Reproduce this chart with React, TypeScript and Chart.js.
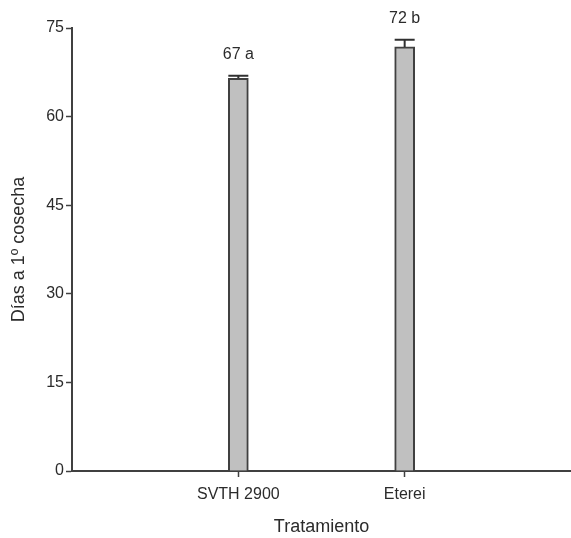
import React, { useEffect, useRef } from "react";
import { Chart, registerables } from "chart.js";

Chart.register(...registerables);

// ---- data ----
const categories: string[] = ["", "SVTH 2900", "Eterei", ""];
const means: (number | null)[] = [null, 66.5, 71.8, null];
const errors: number[] = [0, 0.4, 1.2, 0];
const barLabels: string[] = ["", "67 a", "72 b", ""];
const yMin = 0;
const yMax = 75;
const yStep = 15;
const xTitle = "Tratamiento";
const yTitle = "Días a 1º cosecha";

const FONT = "'Liberation Sans', Arial, sans-serif";
const AXIS = "#404040";
const TEXT = "#2b2b2b";

const errorPlugin = {
  id: "errorBarsAndLabels",
  afterDatasetsDraw(chart: any) {
    const ctx = chart.ctx;
    const meta = chart.getDatasetMeta(0);
    const yScale = chart.scales.y;
    ctx.save();
    meta.data.forEach((bar: any, i: number) => {
      const v = means[i];
      if (v == null) return;
      const x = bar.x;
      const w = bar.width;
      const base = yScale.getPixelForValue(v);
      const top = yScale.getPixelForValue(v + errors[i]);
      ctx.strokeStyle = "#303030";
      ctx.lineWidth = 2;
      ctx.beginPath();
      ctx.moveTo(x, base);
      ctx.lineTo(x, top);
      ctx.moveTo(x - w / 2, top);
      ctx.lineTo(x + w / 2, top);
      ctx.stroke();
      ctx.fillStyle = TEXT;
      ctx.font = `16px ${FONT}`;
      ctx.textAlign = "center";
      ctx.textBaseline = "middle";
      ctx.fillText(barLabels[i], x, top - 21);
    });
    ctx.restore();
  },
};

export default function App() {
  const ref = useRef<HTMLCanvasElement | null>(null);

  useEffect(() => {
    if (!ref.current) return;
    const chart = new Chart(ref.current, {
      type: "bar",
      data: {
        labels: categories,
        datasets: [
          {
            data: means as any,
            backgroundColor: "#c0c0c0",
            borderColor: AXIS,
            borderWidth: 2,
            barThickness: 20,
          },
        ],
      },
      options: {
        animation: false,
        responsive: false,
        layout: { padding: { top: 28, left: 0, right: 0, bottom: 0 } },
        plugins: {
          legend: { display: false },
          tooltip: { enabled: false },
        },
        scales: {
          x: {
            type: "category",
            offset: false,
            grid: {
              display: true,
              offset: false,
              drawOnChartArea: false,
              drawTicks: true,
              tickLength: 6,
              tickWidth: 1.5,
              tickColor: (c: any) =>
                c.index === 1 || c.index === 2 ? AXIS : "rgba(0,0,0,0)",
            },
            border: { display: true, color: AXIS, width: 2 },
            ticks: {
              color: TEXT,
              font: { family: FONT, size: 16, lineHeight: "35px" },
              padding: 0,
              autoSkip: false,
              maxRotation: 0,
            },
            title: {
              display: true,
              text: xTitle,
              color: TEXT,
              font: { family: FONT, size: 18 },
              padding: { top: 0, bottom: 0 },
            },
            afterFit: (s: any) => {
              s.height = 67;
            },
          },
          y: {
            min: yMin,
            max: yMax,
            grid: {
              display: true,
              drawOnChartArea: false,
              drawTicks: true,
              tickLength: 6,
              tickWidth: 1.5,
              tickColor: AXIS,
            },
            border: { display: true, color: AXIS, width: 2 },
            ticks: {
              stepSize: yStep,
              color: TEXT,
              font: { family: FONT, size: 16 },
              padding: 2,
            },
            title: {
              display: true,
              text: yTitle,
              color: TEXT,
              font: { family: FONT, size: 18 },
              padding: { top: 8, bottom: 0 },
            },
            afterFit: (s: any) => {
              s.width = 72;
            },
          },
        },
      },
      plugins: [errorPlugin],
    });
    return () => chart.destroy();
  }, []);

  return (
    <div style={{ position: "absolute", left: 0, top: 0, width: 571, height: 538, background: "#fff" }}>
      <canvas ref={ref} width={571} height={538} style={{ display: "block" }} />
    </div>
  );
}
